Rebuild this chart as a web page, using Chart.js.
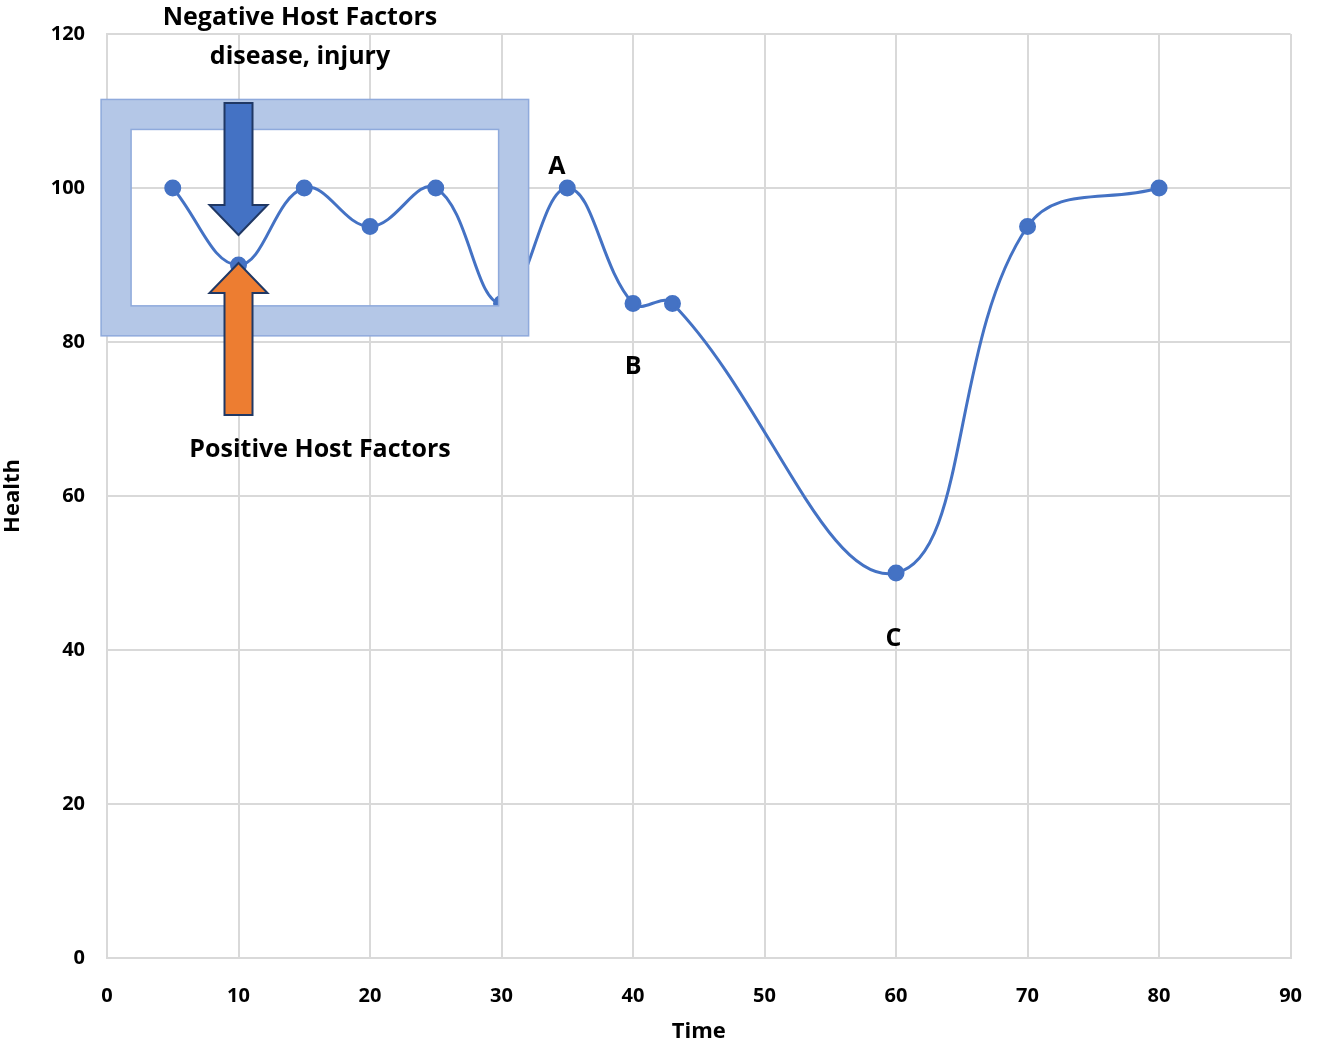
<!DOCTYPE html>
<html>
<head>
<meta charset="utf-8">
<script src="https://cdn.jsdelivr.net/npm/chart.js@4"></script>
<style>
  html, body { margin: 0; padding: 0; background: #fff; }
  #wrap { width: 1328px; height: 1049px; }
</style>
</head>
<body>
<div id="wrap"><canvas id="chart"></canvas></div>
<script>
const times = [5, 10, 15, 20, 25, 30, 35, 40, 43, 60, 70, 80];
const health = [100, 90, 100, 95, 100, 85, 100, 85, 85, 50, 95, 100];
const pointLabels = [
  { text: 'A', x: 34.2, y: 102.7 },
  { text: 'B', x: 40, y: 76.8 },
  { text: 'C', x: 59.8, y: 41.5 },
];
const FONT = "'Open Sans', 'Liberation Sans', sans-serif";
const lineBlue = '#4472c4';

// box + arrows + notes drawn on top of the line
const overlay = {
  id: 'overlay',
  afterDatasetsDraw(chart) {
    const { ctx, scales: { x, y } } = chart;
    ctx.save();
    // framed box
    const bx = x.getPixelForValue(-0.45), bx2 = x.getPixelForValue(32.06);
    const by = y.getPixelForValue(111.5), by2 = y.getPixelForValue(80.8);
    const t = 30;
    ctx.fillStyle = '#b4c7e7';
    ctx.fillRect(bx, by, bx2 - bx, t);
    ctx.fillRect(bx, by2 - t, bx2 - bx, t);
    ctx.fillRect(bx, by, t, by2 - by);
    ctx.fillRect(bx2 - t, by, t, by2 - by);
    ctx.strokeStyle = '#8faadc';
    ctx.lineWidth = 1.5;
    ctx.strokeRect(bx, by, bx2 - bx, by2 - by);
    ctx.strokeRect(bx + t, by + t, bx2 - bx - 2 * t, by2 - by - 2 * t);

    // arrows
    const cx = x.getPixelForValue(10);
    function arrow(tipY, baseY, fill) {
      const dir = Math.sign(tipY - baseY);
      const headLen = 30, sw = 14, hw = 29;
      const neck = tipY - dir * headLen;
      ctx.beginPath();
      ctx.moveTo(cx - sw, baseY);
      ctx.lineTo(cx - sw, neck);
      ctx.lineTo(cx - hw, neck);
      ctx.lineTo(cx, tipY);
      ctx.lineTo(cx + hw, neck);
      ctx.lineTo(cx + sw, neck);
      ctx.lineTo(cx + sw, baseY);
      ctx.closePath();
      ctx.fillStyle = fill;
      ctx.fill();
      ctx.strokeStyle = '#203864';
      ctx.lineWidth = 2;
      ctx.stroke();
    }
    arrow(235, 103, '#4472c4');
    arrow(263, 415, '#ed7d31');

    ctx.fillStyle = '#000';
    ctx.font = 'bold 25px ' + FONT;
    ctx.textAlign = 'center';
    ctx.textBaseline = 'middle';
    ctx.fillText('Negative Host Factors', 300, 18);
    ctx.fillText('disease, injury', 300, 57);
    ctx.fillText('Positive Host Factors', 320, 450);
    pointLabels.forEach(p => {
      ctx.fillText(p.text, x.getPixelForValue(p.x), y.getPixelForValue(p.y));
    });
    ctx.restore();
  }
};

new Chart(document.getElementById('chart'), {
  type: 'line',
  data: {
    datasets: [{
      data: times.map((t, i) => ({ x: t, y: health[i] })),
      borderColor: lineBlue,
      backgroundColor: lineBlue,
      borderWidth: 3,
      pointRadius: 7,
      pointHoverRadius: 7,
      tension: 0.4,
    }]
  },
  options: {
    responsive: true,
    maintainAspectRatio: false,
    animation: false,
    layout: { padding: { top: -9, right: 17 } },
    plugins: { legend: { display: false }, tooltip: { enabled: false } },
    scales: {
      x: {
        type: 'linear', min: 0, max: 90,
        ticks: { stepSize: 10, color: '#000', font: { family: FONT, size: 20, weight: 'bold' }, padding: 26 },
        grid: { color: '#d9d9d9', lineWidth: 2, drawTicks: false },
        border: { color: '#d9d9d9', width: 2 },
        title: { display: true, text: 'Time', color: '#000', font: { family: FONT, size: 22, weight: 'bold' }, padding: { top: 6 } },
        afterFit(s) { s.height = 91; },
      },
      y: {
        min: 0, max: 120,
        ticks: { stepSize: 20, color: '#000', font: { family: FONT, size: 20, weight: 'bold' }, padding: 22 },
        grid: { color: '#d9d9d9', lineWidth: 2, drawTicks: false },
        border: { color: '#d9d9d9', width: 2 },
        title: { display: true, text: 'Health', color: '#000', font: { family: FONT, size: 22, weight: 'bold' }, padding: 0 },
        afterFit(s) { s.width = 107; },
      }
    }
  },
  plugins: [overlay]
});
</script>
</body>
</html>
